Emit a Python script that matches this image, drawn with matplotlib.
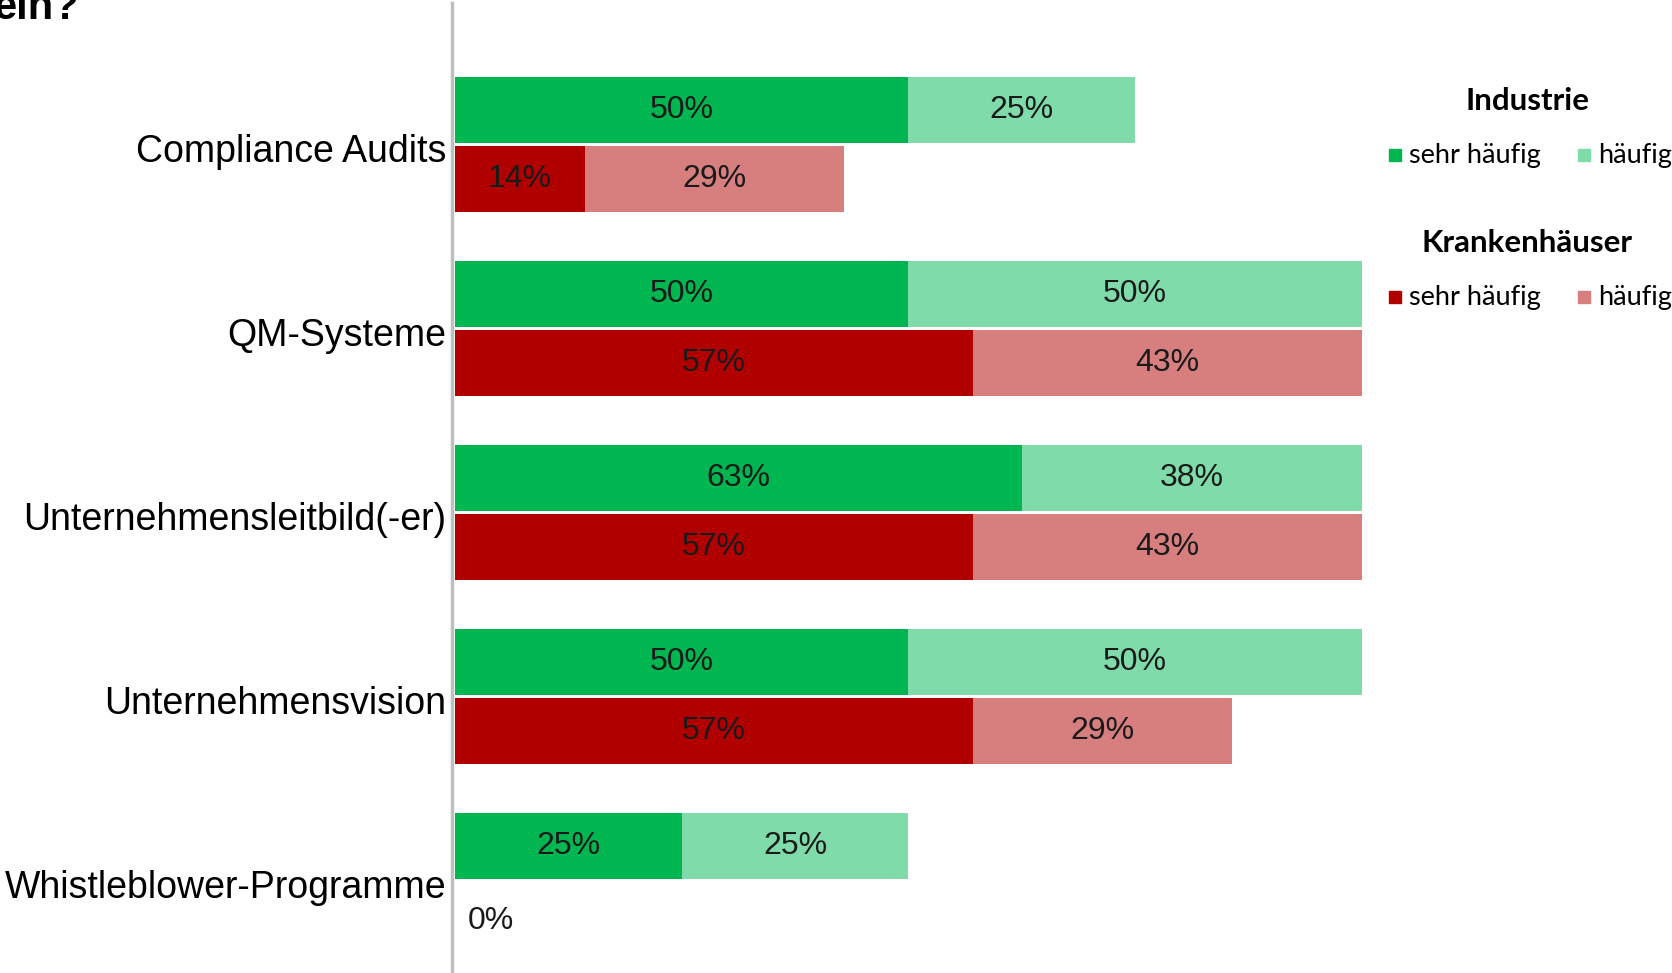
import matplotlib.pyplot as plt
from matplotlib.patches import Rectangle

# Data (share of respondents, %)
categories = ['Compliance Audits', 'QM-Systeme', 'Unternehmensleitbild(-er)',
              'Unternehmensvision', 'Whistleblower-Programme']
ind_sehr = [50, 50, 62.5, 50, 25]
ind_haeufig = [25, 50, 37.5, 50, 25]
kh_sehr = [14.3, 57.1, 57.1, 57.1, 0]
kh_haeufig = [28.6, 42.9, 42.9, 28.6, 0]

c_ind_sehr = '#00B650'
c_ind_haeufig = '#7FDBA9'
c_kh_sehr = '#B00000'
c_kh_haeufig = '#D77E7E'


def pct(v):
    return '%d%%' % int(v + 0.5)


W, H = 1672, 973
fig = plt.figure(figsize=(W / 100, H / 100), dpi=100)
ax = fig.add_axes([452 / W, 0, 1 - 452 / W, 970 / H])

y = list(range(len(categories)))
y_ind = [i - 0.205 for i in y]
y_kh = [i + 0.17 for i in y]
h = 0.36

ax.barh(y_ind, ind_sehr, height=h, color=c_ind_sehr)
ax.barh(y_ind, ind_haeufig, left=ind_sehr, height=h, color=c_ind_haeufig)
ax.barh(y_kh, kh_sehr, height=h, color=c_kh_sehr)
ax.barh(y_kh, kh_haeufig, left=kh_sehr, height=h, color=c_kh_haeufig)

lab = dict(fontsize=23, color='#1a1a1a', va='center', ha='center',
           family='Liberation Sans')
for i in y:
    for left, v, yy in [(0, ind_sehr[i], y_ind[i]),
                        (ind_sehr[i], ind_haeufig[i], y_ind[i]),
                        (0, kh_sehr[i], y_kh[i]),
                        (kh_sehr[i], kh_haeufig[i], y_kh[i])]:
        if v > 0:
            ax.text(left + v / 2, yy, pct(v), **lab)
# zero value shown once at the axis
ax.text(1.4, y_kh[4] + 0.03, pct(kh_sehr[4]), fontsize=23, color='#1a1a1a',
        va='center', ha='left', family='Liberation Sans')

ax.set_xlim(-0.33, (W - 455) / 9.07)
ax.set_ylim(4.484, -0.788)
ax.set_yticks(y)
ax.set_yticklabels(categories, fontsize=27, family='Liberation Sans')
ax.tick_params(axis='y', length=0, pad=4)
ax.set_xticks([])
for s in ['top', 'right', 'bottom']:
    ax.spines[s].set_visible(False)
ax.spines['left'].set_color('#BFBFBF')
ax.spines['left'].set_linewidth(2.5)

# title, only its last word is inside the figure
fig.text(-7 / W, 1 - 19 / H, 'ein?', fontsize=30, fontweight='bold',
         family='Liberation Sans', va='baseline', ha='left')

# legends
def legend_block(title, y_title, y_row, c1, c2):
    fig.text(1527 / W, 1 - y_title / H, title, fontsize=22.5, fontweight='bold',
             family='Lato', ha='center', va='center')
    for xm, c, t in [(1389, c1, 'sehr häufig'), (1578, c2, 'häufig')]:
        fig.patches.append(Rectangle((xm / W, 1 - (y_row + 6) / H), 12 / W, 12 / H,
                                     transform=fig.transFigure, color=c))
        fig.text((xm + 20) / W, 1 - y_row / H, t, fontsize=19.5, family='Lato',
                 ha='left', va='center')

legend_block('Industrie', 101, 155, c_ind_sehr, c_ind_haeufig)
legend_block('Krankenhäuser', 243, 297, c_kh_sehr, c_kh_haeufig)

fig.savefig('out.png', dpi=100)
